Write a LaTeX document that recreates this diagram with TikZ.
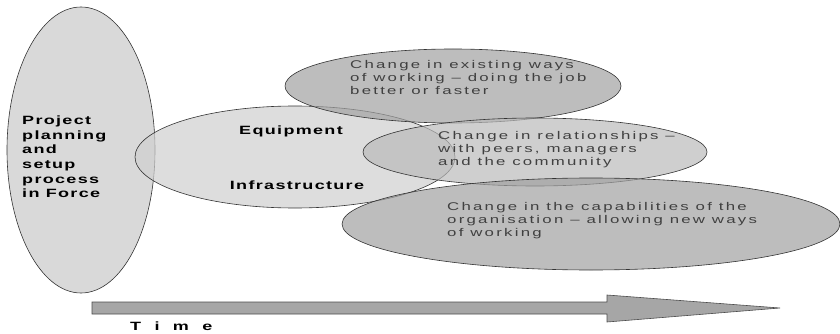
\documentclass[tikz,border=0pt]{standalone}
\usepackage{fontspec}
\setmainfont{Liberation Sans}
\newfontfamily\wideheavy[FakeStretch=1.5,LetterSpace=11]{Liberation Sans}
\newfontfamily\widelight[FakeStretch=1.5,LetterSpace=20]{Liberation Sans}
\newfontfamily\widetime[FakeStretch=1.5,LetterSpace=70]{Liberation Sans}
\usetikzlibrary{shapes.geometric}
\begin{document}
\begin{tikzpicture}[x=1pt,y=-1pt,
   blob/.style={ellipse, draw=black!80, line width=0.6pt, fill opacity=0.7, inner sep=0pt},
   heavy/.style={font=\wideheavy\bfseries\fontsize{12}{14.6}\selectfont, align=left, inner sep=0pt},
   light/.style={font=\widelight\fontsize{11.2}{13}\selectfont, text=black!75, align=left, inner sep=0pt}]
   \useasboundingbox (0,0) rectangle (840,334);
   % the five phases
   \node (proj) [blob, fill=black!21, minimum width=148, minimum height=286] at (81,150) {};
   \node (kit)  [blob, fill=black!19, minimum width=320, minimum height=102] at (295,157) {};
   \node (ways) [blob, fill=black!37, minimum width=336, minimum height=74] at (453,86) {};
   \node (rel)  [blob, fill=black!27, minimum width=344, minimum height=68] at (535,152) {};
   \node (cap)  [blob, fill=black!37, minimum width=498, minimum height=92] at (591,224) {};
   % their texts
   \node (projtext) [heavy, anchor=west] at (22,157) {Project\\planning\\and\\setup\\process\\in Force};
   \node (equip) [heavy] at (291,131) {Equipment};
   \node (infra) [heavy] at (297,185) {Infrastructure};
   \node (waystext) [light, anchor=west] at (350,77) {Change in existing ways\\of working – doing the job\\better or faster};
   \node (reltext) [light, anchor=west] at (438,150) {Change in relationships –\\with peers, managers\\and the community};
   \node (captext) [light, anchor=west] at (447,221) {Change in the capabilities of the\\organisation – allowing new ways\\of working};
   % time axis
   \filldraw[fill=black!35, draw=black!70, line width=0.6pt]
     (92,302) -- (607,302) -- (607,295) -- (780,308) -- (607,322) -- (607,314) -- (92,314) -- cycle;
   \node (time) [font=\widetime\bfseries\fontsize{12}{15}\selectfont, anchor=west, inner sep=0pt] at (130,326) {T i m e};
  \end{tikzpicture}
\end{document}
